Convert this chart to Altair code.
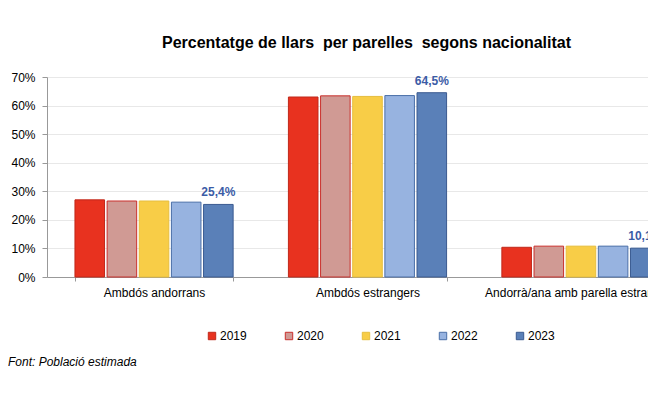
import altair as alt
import pandas as pd

categories = ["Ambdós andorrans", "Ambdós estrangers", "Andorrà/ana amb parella estrangera"]
years = ["2019", "2020", "2021", "2022", "2023"]
values = {
    "2019": [27.0, 63.0, 10.4],
    "2020": [26.6, 63.4, 10.8],
    "2021": [26.6, 63.2, 10.8],
    "2022": [26.2, 63.5, 10.8],
    "2023": [25.4, 64.5, 10.1],
}
y_ticks = [0, 10, 20, 30, 40, 50, 60, 70]
fill_colors = ["#E8321F", "#D09A94", "#F8CD47", "#97B3E0", "#5A80B8"]
stroke_colors = ["#C0281A", "#C9302C", "#E6BE3E", "#4A6FA8", "#3A5A90"]
title_text = "Percentatge de llars\u00a0 per parelles\u00a0 segons nacionalitat"
caption_text = "Font: Població estimada"

rows = []
for y in years:
    for c, v in zip(categories, values[y]):
        rows.append({"cat": c, "year": y, "value": v,
                     "label": f"{v:.1f}%".replace(".", ",")})
df = pd.DataFrame(rows)

FONT = "Liberation Sans"

x_enc = alt.X("cat:N", sort=categories, title=None,
              scale=alt.Scale(paddingInner=0.259, paddingOuter=0.131, range=[0, 641]),
              axis=alt.Axis(labelAngle=0, labelFontSize=12, labelFont=FONT,
                            labelColor="#000", tickBand="extent", tickSize=4,
                            tickColor="#999", domainColor="#999",
                            labelPadding=6, grid=False, labelLimit=400))
xo_enc = alt.XOffset("year:N", sort=years,
                     scale=alt.Scale(paddingInner=0.08, paddingOuter=0))
y_enc = alt.Y("value:Q", title=None,
              scale=alt.Scale(domain=[0, 70]),
              axis=alt.Axis(values=y_ticks,
                            labelExpr="datum.value + '%'",
                            labelFontSize=12, labelFont=FONT, labelColor="#000",
                            tickSize=5, tickColor="#999", domainColor="#999",
                            labelPadding=7, gridColor="#E8E8E8"))

legend = alt.Legend(title=None, orient="none", legendX=159, legendY=253,
                    direction="horizontal",
                    symbolType="square", symbolSize=55, symbolStrokeWidth=1,
                    labelFontSize=12, labelFont=FONT, labelColor="#000",
                    labelOffset=2, columnPadding=36)

bars = alt.Chart(df).mark_bar(strokeWidth=1).encode(
    x=x_enc,
    xOffset=xo_enc,
    y=y_enc,
    fill=alt.Fill("year:N", sort=years,
                  scale=alt.Scale(domain=years, range=fill_colors), legend=legend),
    stroke=alt.Stroke("year:N", sort=years,
                      scale=alt.Scale(domain=years, range=stroke_colors), legend=legend),
)

labels = alt.Chart(df).transform_filter(alt.datum.year == "2023").mark_text(
    baseline="bottom", dy=-5, fontWeight="bold", fontSize=12, font=FONT,
    color="#3B5CA6"
).encode(
    x=x_enc,
    xOffset=xo_enc,
    y=y_enc,
    text="label:N",
)

caption = alt.Chart(pd.DataFrame({"t": [caption_text]})).mark_text(
    align="left", baseline="middle", fontSize=12, font=FONT, fontStyle="italic",
    color="#000"
).encode(x=alt.value(-39), y=alt.value(285), text="t:N")

chart = alt.layer(bars, labels, caption).properties(
    width=601, height=200,
    autosize=alt.AutoSizeParams(type="none"),
    padding={"top": 69, "left": 39, "right": 0, "bottom": 100},
    title=alt.TitleParams(title_text, fontSize=16, font=FONT, fontWeight="bold",
                          color="#000", anchor="middle", offset=20, dx=19),
).configure_view(stroke=None).configure_axis(gridWidth=1)

chart.save("out.html", embed_options={"renderer": "svg", "actions": False})
